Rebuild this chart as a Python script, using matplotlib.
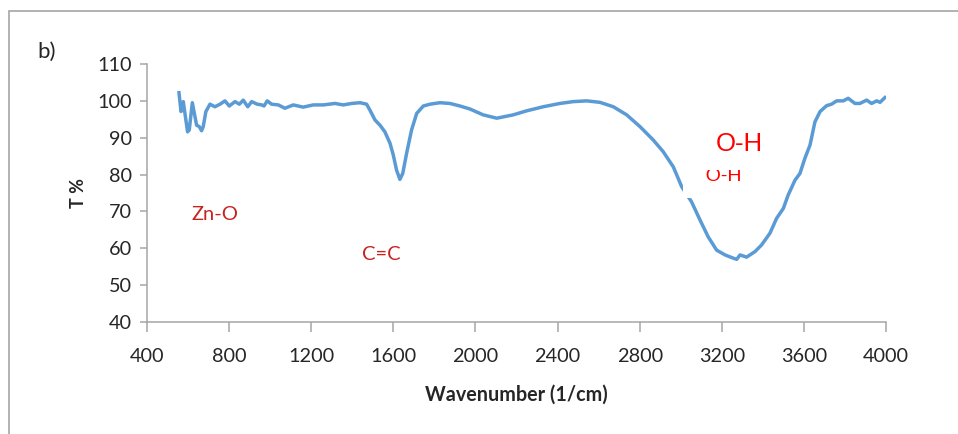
import matplotlib
matplotlib.use("Agg")
import matplotlib.pyplot as plt
from matplotlib.patches import Rectangle

# FTIR transmittance spectrum
wavenumber = [556, 566, 577, 585, 598, 606, 621, 634, 642, 655, 666, 674, 687, 707,
              731, 756, 780, 801, 829, 850, 869, 891, 910, 937, 959, 970, 986, 1007,
              1040, 1072, 1113, 1161, 1210, 1259, 1316, 1356, 1397, 1438, 1470, 1486,
              1511, 1535, 1559, 1584, 1600, 1616, 1632, 1646, 1665, 1689, 1714, 1746,
              1779, 1827, 1876, 1925, 1973, 2038, 2104, 2184, 2250, 2330, 2412, 2477,
              2542, 2607, 2672, 2737, 2802, 2866, 2915, 2964, 3005, 3053, 3094, 3134,
              3175, 3216, 3257, 3273, 3289, 3321, 3362, 3394, 3435, 3467, 3500, 3524,
              3557, 3581, 3605, 3630, 3654, 3679, 3711, 3735, 3760, 3792, 3816, 3849,
              3873, 3906, 3930, 3955, 3971, 3995]
transmittance = [102.2, 97.1, 99.8, 96.6, 91.6, 92.1, 99.5, 95.7, 93.4, 93.0, 91.9,
                 93.0, 97.1, 99.1, 98.4, 99.1, 100.0, 98.6, 99.8, 99.1, 100.2, 98.4,
                 99.8, 99.1, 98.9, 98.6, 100.0, 99.1, 98.9, 98.0, 98.9, 98.3, 98.9,
                 98.9, 99.3, 98.9, 99.3, 99.5, 99.1, 97.5, 94.8, 93.4, 91.6, 88.5,
                 85.3, 81.2, 78.7, 80.3, 85.8, 92.1, 96.6, 98.6, 99.1, 99.5, 99.3,
                 98.6, 97.8, 96.2, 95.3, 96.2, 97.3, 98.4, 99.3, 99.8, 100.0, 99.6,
                 98.4, 96.2, 93.0, 89.4, 86.2, 82.1, 76.7, 72.6, 67.7, 63.1, 59.5,
                 58.2, 57.3, 57.0, 58.2, 57.6, 59.1, 60.9, 64.1, 68.1, 70.8, 74.5,
                 78.5, 80.3, 84.4, 88.0, 94.3, 97.1, 98.7, 99.1, 100.0, 100.0, 100.7,
                 99.3, 99.3, 100.2, 99.3, 100.0, 99.6, 100.9]

x_ticks = [400, 800, 1200, 1600, 2000, 2400, 2800, 3200, 3600, 4000]
y_ticks = [40, 50, 60, 70, 80, 90, 100, 110]

plt.rcParams['font.family'] = ['Lato', 'DejaVu Sans']

fig = plt.figure(figsize=(9.58, 4.34), dpi=100)
ax = fig.add_axes([0.1534, 0.2581, 0.9248 - 0.1534, 0.8525 - 0.2581])

# outer chart frame
fig.patches.append(Rectangle((9 / 958, -0.05), 1.1, 1 - 11 / 434 + 0.05,
                             transform=fig.transFigure, fill=False,
                             edgecolor='#A6A6A6', linewidth=1.2, clip_on=False))

ax.plot(wavenumber, transmittance, color='#5B9BD5', linewidth=2.5, zorder=2,
        solid_joinstyle='round')

ax.set_xlim(400, 4000)
ax.set_ylim(40, 110)
ax.set_xticks(x_ticks)
ax.set_yticks(y_ticks)
ax.tick_params(axis='both', labelsize=14.3, colors='#A6A6A6', labelcolor='#262626')
ax.tick_params(axis='x', length=7, width=1.1, pad=12)
ax.tick_params(axis='y', length=5, width=1.1, pad=6)
for side in ('top', 'right'):
    ax.spines[side].set_visible(False)
for side in ('left', 'bottom'):
    ax.spines[side].set_color('#A6A6A6')
    ax.spines[side].set_linewidth(1.1)

ax.set_xlabel('Wavenumber (1/cm)', fontsize=14.2, fontweight='bold', color='#262626',
              labelpad=14)
ax.set_ylabel('T %', fontsize=13, fontweight='bold', color='#262626', labelpad=7)

fig.text(37 / 958, 1 - 52 / 434, 'b)', fontsize=16, color='#262626', va='center')

# band assignments
ax.text(731, 69.3, 'Zn-O', fontsize=14.5, color='#C9211E', ha='center', va='center')
ax.text(1542, 58.4, 'C=C', fontsize=14.5, color='#C9211E', ha='center', va='center')
ax.text(3298, 78.25, '  O-H', fontsize=14, color='#FF0000', ha='right',
        va='baseline', family=['Liberation Sans', 'DejaVu Sans'], zorder=3,
        bbox=dict(boxstyle='square,pad=0.65', facecolor='white', edgecolor='none'))
ax.text(3284, 86.5, 'O-H', fontsize=18.5, color='#FF0000', ha='center',
        va='baseline', family=['Liberation Sans', 'DejaVu Sans'], zorder=4,
        bbox=dict(boxstyle='square,pad=0.55', facecolor='white', edgecolor='none'))

fig.savefig('out.png', dpi=100)
